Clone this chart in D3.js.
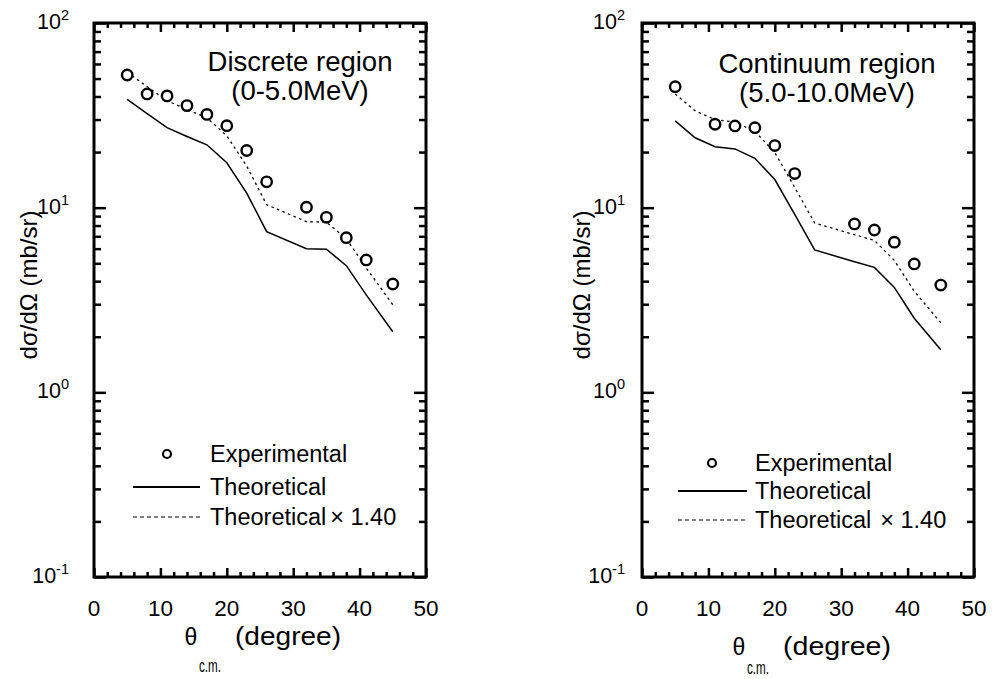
<!DOCTYPE html>
<html>
<head>
<meta charset="utf-8">
<script src="https://cdn.jsdelivr.net/npm/d3@7"></script>
<style>
  html, body { margin: 0; padding: 0; background: #fff; }
  svg { display: block; font-family: "Liberation Sans", Arial, sans-serif; }
</style>
</head>
<body>
<svg id="chart" width="995" height="679"></svg>
<script>
// ---------------- data ----------------
const xTickValues = [0, 10, 20, 30, 40, 50];
const yTickExponents = [2, 1, 0, -1];
const theoryScale = 1.40;

const leftExpAngle = [5, 8, 11, 14, 17, 20, 23, 26, 32, 35, 38, 41, 45];
const leftExpValue = [52.3, 41.3, 40.3, 35.7, 32.0, 27.8, 20.4, 13.8, 10.05, 8.87, 6.88, 5.21, 3.86];
const leftTheoAngle = [5, 8, 11, 14, 17, 20, 23, 26, 32, 35, 38, 41, 45];
const leftTheoValue = [38.6, 32.3, 27.1, 24.3, 21.9, 17.5, 12.0, 7.41, 6.0, 5.96, 4.85, 3.37, 2.13];

const rightExpAngle = [5, 11, 14, 17, 20, 23, 32, 35, 38, 41, 45];
const rightExpValue = [45.2, 28.3, 27.7, 27.1, 21.7, 15.3, 8.16, 7.57, 6.5, 4.96, 3.81];
const rightTheoAngle = [5, 8, 11, 14, 17, 20, 23, 26, 32, 35, 38, 41, 45];
const rightTheoValue = [29.5, 23.9, 21.4, 20.8, 18.5, 14.2, 9.2, 5.9, 5.1, 4.75, 3.7, 2.52, 1.70];

const leftTitle = ["Discrete region", "(0-5.0MeV)"];
const rightTitle = ["Continuum region", "(5.0-10.0MeV)"];
const legendLabels = ["Experimental", "Theoretical", "Theoretical", "\u00d7 1.40"];
const yLabel = "d\u03c3/d\u03a9 (mb/sr)";
const xLabelMain = "\u03b8";
const xLabelSub = "c.m.";
const xLabelUnit = "(degree)";

// ---------------- drawing ----------------
const svg = d3.select("#chart");

function drawPanel(cfg) {
  const g = svg.append("g");
  const x = d3.scaleLinear().domain([0, 50]).range([cfg.x0, cfg.x1]);
  const y = d3.scaleLog().domain([0.1, 100]).range([cfg.y1, cfg.y0]);

  const xMinor = d3.range(0, 51, 2).filter(v => v % 10 !== 0);
  const yMajor = yTickExponents.map(e => Math.pow(10, e));
  const yMinor = [];
  [-1, 0, 1].forEach(e => { for (let k = 2; k <= 9; k++) yMinor.push(k * Math.pow(10, e)); });

  function styleAxis(sel) {
    sel.select(".domain").remove();
    sel.selectAll(".tick line").attr("stroke", "#000").attr("stroke-width", 2.5);
    sel.selectAll(".tick text").remove();
  }

  // bottom
  g.append("g").attr("transform", `translate(0,${cfg.y1})`)
    .call(d3.axisBottom(x).tickValues(xTickValues).tickSize(-9).tickFormat("")).call(styleAxis);
  g.append("g").attr("transform", `translate(0,${cfg.y1})`)
    .call(d3.axisBottom(x).tickValues(xMinor).tickSize(-5).tickFormat("")).call(styleAxis);
  // top
  g.append("g").attr("transform", `translate(0,${cfg.y0})`)
    .call(d3.axisTop(x).tickValues(xTickValues).tickSize(-9).tickFormat("")).call(styleAxis);
  g.append("g").attr("transform", `translate(0,${cfg.y0})`)
    .call(d3.axisTop(x).tickValues(xMinor).tickSize(-5).tickFormat("")).call(styleAxis);
  // left
  g.append("g").attr("transform", `translate(${cfg.x0},0)`)
    .call(d3.axisLeft(y).tickValues(yMajor).tickSize(-12).tickFormat("")).call(styleAxis);
  g.append("g").attr("transform", `translate(${cfg.x0},0)`)
    .call(d3.axisLeft(y).tickValues(yMinor).tickSize(-7).tickFormat("")).call(styleAxis);
  // right
  g.append("g").attr("transform", `translate(${cfg.x1},0)`)
    .call(d3.axisRight(y).tickValues(yMajor).tickSize(-12).tickFormat("")).call(styleAxis);
  g.append("g").attr("transform", `translate(${cfg.x1},0)`)
    .call(d3.axisRight(y).tickValues(yMinor).tickSize(-7).tickFormat("")).call(styleAxis);

  // frame
  g.append("rect")
    .attr("x", cfg.x0).attr("y", cfg.y0)
    .attr("width", cfg.x1 - cfg.x0).attr("height", cfg.y1 - cfg.y0)
    .attr("fill", "none").attr("stroke", "#000").attr("stroke-width", 3);

  // x tick labels
  g.selectAll(".xlab").data(xTickValues).enter().append("text")
    .attr("x", d => x(d)).attr("y", cfg.y1 + 39)
    .attr("text-anchor", "middle").attr("font-size", 22.5).text(d => d);

  // y tick labels with superscripts
  yTickExponents.forEach(e => {
    const t = g.append("text")
      .attr("x", cfg.x0 - cfg.yLabRight).attr("y", y(Math.pow(10, e)) + 6)
      .attr("text-anchor", "end").attr("font-size", 21.5);
    t.append("tspan").text("10");
    t.append("tspan").attr("font-size", 14.5).attr("dy", -9).text(String(e));
  });

  // y axis label
  g.append("text")
    .attr("transform", `translate(${cfg.yTitleX},${285}) rotate(-90)`)
    .attr("text-anchor", "middle").attr("font-size", 24).text(yLabel);

  // x axis label
  g.append("text").attr("x", x(0) + 97).attr("y", cfg.xTitleY)
    .attr("text-anchor", "middle").attr("font-size", 23).text(xLabelMain);
  g.append("text").attr("x", x(0) + 105).attr("y", cfg.xSubY)
    .attr("font-size", 18).attr("textLength", 22).attr("lengthAdjust", "spacingAndGlyphs")
    .text(xLabelSub);
  g.append("text").attr("x", x(0) + 141).attr("y", cfg.xTitleY)
    .attr("font-size", 25.5).attr("textLength", cfg.unitLen).attr("lengthAdjust", "spacingAndGlyphs")
    .text(xLabelUnit);

  // title
  cfg.title.forEach((s, i) => {
    g.append("text").attr("x", cfg.titleX).attr("y", cfg.titleY[i])
      .attr("text-anchor", "middle").attr("font-size", 27.5).text(s);
  });

  // theory lines
  const theo = cfg.theoAngle.map((a, i) => ({ a, v: cfg.theoValue[i] }));
  const line = d3.line().x(d => x(d.a)).y(d => y(d.v));
  g.append("path").datum(theo).attr("d", line)
    .attr("fill", "none").attr("stroke", "#000").attr("stroke-width", 1.5);
  g.append("path").datum(theo.map(d => ({ a: d.a, v: d.v * theoryScale }))).attr("d", line)
    .attr("fill", "none").attr("stroke", "#000").attr("stroke-width", 1.3)
    .attr("stroke-dasharray", "2.5,3.5");

  // experimental points
  const exp = cfg.expAngle.map((a, i) => ({ a, v: cfg.expValue[i] }));
  g.selectAll(".pt").data(exp).enter().append("circle")
    .attr("cx", d => x(d.a)).attr("cy", d => y(d.v)).attr("r", 5.2)
    .attr("fill", "#fff").attr("stroke", "#000").attr("stroke-width", 2.4);

  // legend
  const L = cfg.legend;
  g.append("circle").attr("cx", L.cx).attr("cy", L.cy).attr("r", 4)
    .attr("fill", "#fff").attr("stroke", "#000").attr("stroke-width", 2.2);
  g.append("text").attr("x", L.tx).attr("y", L.cy + 8).attr("font-size", 23.5).text(legendLabels[0]);
  g.append("line").attr("x1", L.lx0).attr("x2", L.lx1).attr("y1", L.ly1).attr("y2", L.ly1)
    .attr("stroke", "#000").attr("stroke-width", 2);
  g.append("text").attr("x", L.tx).attr("y", L.ly1 + 8).attr("font-size", 23.5).text(legendLabels[1]);
  g.append("line").attr("x1", L.lx0).attr("x2", L.lx1).attr("y1", L.ly2).attr("y2", L.ly2)
    .attr("stroke", "#000").attr("stroke-width", 1.2).attr("stroke-dasharray", "4,3");
  const t3 = g.append("text").attr("x", L.tx).attr("y", L.ly2 + 8).attr("font-size", 23.5);
  t3.append("tspan").text(legendLabels[2]);
  t3.append("tspan").attr("dx", L.gap).text(legendLabels[3]);
}

drawPanel({
  x0: 94, x1: 426, y0: 23, y1: 577,
  yLabRight: 25, yTitleX: 37, xTitleY: 645, xSubY: 672, unitLen: 106,
  title: leftTitle, titleX: 300, titleY: [71, 100],
  expAngle: leftExpAngle, expValue: leftExpValue,
  theoAngle: leftTheoAngle, theoValue: leftTheoValue,
  legend: { cx: 167, cy: 454, tx: 210, lx0: 133, lx1: 200, ly1: 487, ly2: 517, gap: 4 }
});

drawPanel({
  x0: 642, x1: 974, y0: 23, y1: 577,
  yLabRight: 17, yTitleX: 590, xTitleY: 655, xSubY: 674, unitLen: 108,
  title: rightTitle, titleX: 827, titleY: [73, 102],
  expAngle: rightExpAngle, expValue: rightExpValue,
  theoAngle: rightTheoAngle, theoValue: rightTheoValue,
  legend: { cx: 712, cy: 463, tx: 755, lx0: 678, lx1: 747, ly1: 491, ly2: 520, gap: 9 }
});
</script>
</body>
</html>
